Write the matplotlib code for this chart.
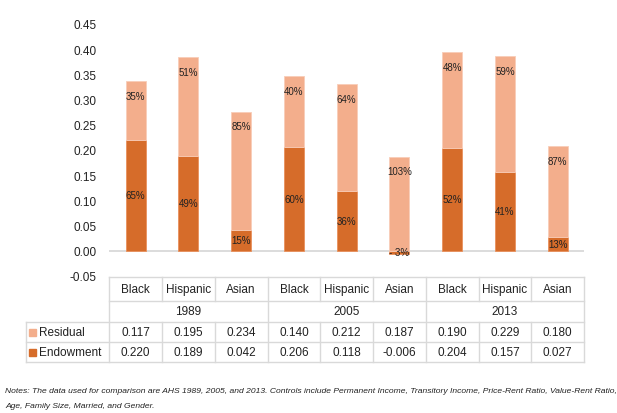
import matplotlib.pyplot as plt
import matplotlib.patches as mpatches

plt.rcParams['font.family'] = ['Liberation Sans', 'DejaVu Sans']

# data
groups = ['Black', 'Hispanic', 'Asian'] * 3
years = ['1989', '2005', '2013']
residual = [0.117, 0.195, 0.234, 0.140, 0.212, 0.187, 0.190, 0.229, 0.180]
endowment = [0.220, 0.189, 0.042, 0.206, 0.118, -0.006, 0.204, 0.157, 0.027]
residual_pct = ['35%', '51%', '85%', '40%', '64%', '103%', '48%', '59%', '87%']
endowment_pct = ['65%', '49%', '15%', '60%', '36%', '- 3%', '52%', '41%', '13%']

c_res = '#F3AE8C'
c_end = '#D66C2A'
grid_c = '#D9D9D9'

W, H = 617, 414
fig = plt.figure(figsize=(W / 100, H / 100), dpi=100)
left, right = 109.3 / W, 584 / W
ax = fig.add_axes([left, (H - 277) / H, right - left, (277 - 25) / H])

x = list(range(len(groups)))
res_bottom = [max(e, 0) for e in endowment]
ax.bar(x, endowment, width=0.38, color=c_end, edgecolor='#E9915C', linewidth=0.6, zorder=2)
ax.bar(x, residual, width=0.38, bottom=res_bottom, color=c_res, edgecolor='#F8CDB8',
       linewidth=0.6, zorder=2)

for i in x:
    ax.text(i, endowment[i] / 2, endowment_pct[i], ha='center', va='center', fontsize=7,
            color='#222222', zorder=3)
    top = res_bottom[i] + residual[i]
    ax.annotate(residual_pct[i], (i, top), xytext=(0, -10.5), textcoords='offset points',
                ha='center', va='center', fontsize=7, color='#222222', zorder=3)

ax.axhline(0, color=grid_c, lw=1.3, zorder=1)
ax.set_xlim(-0.5, 8.5)
ax.set_ylim(-0.05, 0.45)
ax.set_yticks([-0.05 + 0.05 * k for k in range(11)])
ax.set_yticklabels(['%.2f' % (-0.05 + 0.05 * k) for k in range(11)])
ax.tick_params(axis='y', length=0, pad=9, labelsize=8.5, labelcolor='#222222')
ax.set_xticks([])
for s in ax.spines.values():
    s.set_visible(False)

# table below the axes, drawn in figure coordinates
def fy(py):
    return (H - py) / H

def fx(px):
    return px / W

cw = (right - left) / 9
lab_left = fx(25.7)
rows = [278, 302, 323, 343, 363]
tf = fig.transFigure
lk = dict(color=grid_c, lw=1.0, transform=tf)

def hline(x0, x1, py):
    fig.add_artist(plt.Line2D([x0, x1], [fy(py), fy(py)], **lk))

def vline(xx, p0, p1):
    fig.add_artist(plt.Line2D([xx, xx], [fy(p0), fy(p1)], **lk))

hline(left, right, rows[0])
hline(left, right, rows[1])
for py in rows[2:]:
    hline(lab_left, right, py)
vline(lab_left, rows[2], rows[4])
for k in range(10):
    xx = left + k * cw
    if k in (0, 3, 6, 9):
        vline(xx, rows[0], rows[4])
    else:
        vline(xx, rows[0], rows[1])
        vline(xx, rows[2], rows[4])

tk = dict(ha='center', va='center', fontsize=8.5, color='#222222', transform=tf)
for k in range(9):
    cx = left + (k + 0.5) * cw
    fig.text(cx, fy((rows[0] + rows[1]) / 2), groups[k], **tk)
    fig.text(cx, fy((rows[2] + rows[3]) / 2), '%.3f' % residual[k], **tk)
    fig.text(cx, fy((rows[3] + rows[4]) / 2), '%.3f' % endowment[k], **tk)
for j, yr in enumerate(years):
    cx = left + (3 * j + 1.5) * cw
    fig.text(cx, fy((rows[1] + rows[2]) / 2), yr, **tk)

for lab, col, r in [('Residual', c_res, 2), ('Endowment', c_end, 3)]:
    cy = (rows[r] + rows[r + 1]) / 2
    fig.add_artist(mpatches.Rectangle((fx(29.3), fy(cy + 3.5)), 7 / W, 7 / H, color=col,
                                      transform=tf))
    fig.text(fx(38.5), fy(cy), lab, ha='left', va='center', fontsize=8.5, color='#222222',
             transform=tf)

notes = ('Notes: The data used for comparison are AHS 1989, 2005, and 2013. Controls include Permanent '
         'Income, Transitory Income, Price-Rent Ratio, Value-Rent Ratio,\nAge, Family Size, Married, and Gender.')
fig.text(fx(5), fy(388), notes, ha='left', va='top', fontsize=6.1, style='italic',
         color='#222222', linespacing=2.65)

fig.savefig('out.png', dpi=100, facecolor='white')
